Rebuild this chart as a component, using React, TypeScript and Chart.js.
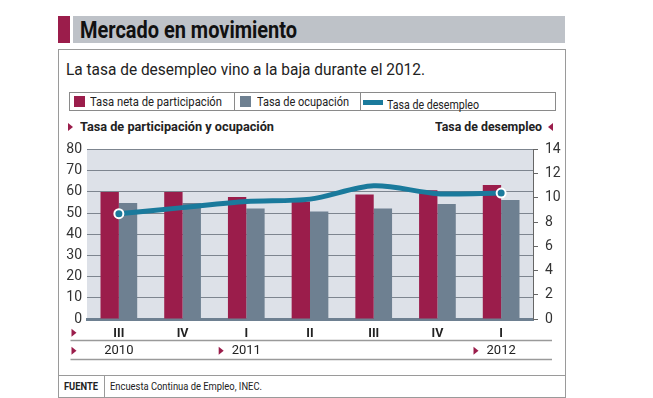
import React, { useEffect, useLayoutEffect, useRef } from "react";
import { Chart, registerables } from "chart.js";

Chart.register(...registerables);

const categories = ["III", "IV", "I", "II", "III", "IV", "I"];
const participacion = [60, 60, 57.6, 55.4, 58.8, 60.8, 63.2];
const ocupacion = [54.8, 54.8, 52.1, 50.7, 52.1, 54.3, 56.2];
const desempleo = [8.7, 9.2, 9.7, 9.9, 11.0, 10.35, 10.4];
const yearLabels = ["2010", "2011", "2012"];
const yearIndex = [0, 2, 6];
const yearArrow = [false, true, true];

const CRIMSON = "#9b1d4b";
const SLATE = "#6e8091";
const TEAL = "#1a7a9c";
const PLOTBG = "#dde1e8";
const F = "Roboto, 'Noto Sans', sans-serif";

const tri = (ctx: CanvasRenderingContext2D, x: number, y: number) => {
  ctx.beginPath();
  ctx.moveTo(x, y - 4);
  ctx.lineTo(x + 5, y);
  ctx.lineTo(x, y + 4);
  ctx.closePath();
  ctx.fillStyle = CRIMSON;
  ctx.fill();
};

const decor = {
  id: "decor",
  beforeDraw(chart: any) {
    const { ctx, chartArea: a } = chart;
    ctx.save();
    ctx.fillStyle = PLOTBG;
    ctx.fillRect(a.left, a.top, a.right - a.left, a.bottom - a.top);
    ctx.restore();
  },
  afterDraw(chart: any) {
    const { ctx } = chart;
    const xs = chart.scales.x;
    ctx.save();
    ctx.strokeStyle = "#9a9a9a";
    ctx.lineWidth = 1.5;
    [200.5, 219.5].forEach((y) => {
      ctx.beginPath();
      ctx.moveTo(12.5, y);
      ctx.lineTo(494, y);
      ctx.stroke();
    });
    tri(ctx, 13.5, 192.7);
    tri(ctx, 13.5, 210.7);
    ctx.font = `13px ${F}`;
    ctx.textBaseline = "middle";
    ctx.textAlign = "center";
    yearLabels.forEach((lab, i) => {
      const cx = xs.getPixelForValue(yearIndex[i]);
      ctx.fillStyle = "#222";
      ctx.fillText(lab, cx, 210.7);
      if (yearArrow[i]) {
        const w = ctx.measureText(lab).width;
        tri(ctx, cx - w / 2 - 13, 210.7);
      }
    });
    ctx.restore();
  },
};

function ChartBox() {
  const ref = useRef<HTMLCanvasElement>(null);
  useEffect(() => {
    if (!ref.current) return;
    const chart = new Chart(ref.current, {
      type: "bar",
      data: {
        labels: categories,
        datasets: [
          {
            type: "line",
            label: "Tasa de desempleo",
            data: desempleo,
            yAxisID: "y1",
            borderColor: TEAL,
            borderWidth: 5,
            tension: 0.3,
            pointRadius: [4.5, 0, 0, 0, 0, 0, 4.5],
            pointBackgroundColor: TEAL,
            pointBorderColor: "#ffffff",
            pointBorderWidth: 2,
            order: 0,
          } as any,
          {
            label: "Tasa neta de participación",
            data: participacion,
            backgroundColor: CRIMSON,
            yAxisID: "y",
            categoryPercentage: 0.576,
            barPercentage: 1,
            order: 1,
          },
          {
            label: "Tasa de ocupación",
            data: ocupacion,
            backgroundColor: SLATE,
            yAxisID: "y",
            categoryPercentage: 0.576,
            barPercentage: 1,
            order: 2,
          },
        ],
      },
      options: {
        animation: false,
        responsive: false,
        maintainAspectRatio: false,
        layout: { padding: { top: 9.5, left: 0, right: 0, bottom: 0 } },
        plugins: { legend: { display: false }, tooltip: { enabled: false } },
        scales: {
          x: {
            offset: true,
            grid: { display: false, drawTicks: false },
            border: { display: true, color: SLATE, width: 3 },
            ticks: {
              font: { family: F, size: 12.5, weight: "bold" },
              color: "#222",
              padding: 7,
              maxRotation: 0,
              autoSkip: false,
            },
            afterFit(s: any) {
              s.height = 46;
              s.paddingLeft = 0;
              s.paddingRight = 0;
            },
          },
          y: {
            position: "left",
            min: 0,
            max: 80,
            ticks: { stepSize: 10, padding: 5, font: { family: F, size: 14 }, color: "#333", autoSkip: false },
            grid: { color: "#7d858f", lineWidth: 1, drawTicks: false },
            border: { display: false },
            afterFit(s: any) {
              s.width = 29;
              s.paddingTop = 0;
              s.paddingBottom = 0;
            },
          },
          y1: {
            position: "right",
            min: 0,
            max: 14,
            ticks: { stepSize: 2, padding: 7, font: { family: F, size: 14 }, color: "#333", autoSkip: false },
            grid: { drawOnChartArea: false, drawTicks: true, tickLength: 5, color: "#666" },
            border: { display: true, color: "#666", width: 1 },
            afterFit(s: any) {
              s.width = 32;
              s.paddingTop = 0;
              s.paddingBottom = 0;
            },
          },
        },
      },
      plugins: [decor],
    });
    return () => chart.destroy();
  }, []);
  return (
    <canvas
      ref={ref}
      width={507}
      height={225}
      style={{ position: "absolute", left: 58, top: 140, width: 507, height: 225 }}
    />
  );
}

function T(props: {
  left: number;
  top: number;
  width: number;
  size: number;
  bold?: boolean;
  color?: string;
  children: React.ReactNode;
}) {
  const ref = useRef<HTMLSpanElement>(null);
  useLayoutEffect(() => {
    const el = ref.current;
    if (!el) return;
    el.style.transform = "none";
    const w = el.getBoundingClientRect().width;
    if (w > 0) el.style.transform = `scaleX(${props.width / w})`;
  }, []);
  return (
    <span
      ref={ref}
      style={{
        position: "absolute",
        left: props.left,
        top: props.top,
        fontFamily: F,
        fontSize: props.size,
        fontWeight: props.bold ? "bold" : "normal",
        whiteSpace: "nowrap",
        lineHeight: 1,
        transformOrigin: "left top",
        color: props.color || "#222",
      }}
    >
      {props.children}
    </span>
  );
}

const Tri = ({ left, top, dir }: { left: number; top: number; dir: number }) => (
  <div
    style={{
      position: "absolute",
      left,
      top,
      width: 0,
      height: 0,
      borderTop: "4px solid transparent",
      borderBottom: "4px solid transparent",
      ...(dir > 0 ? { borderLeft: `5px solid ${CRIMSON}` } : { borderRight: `5px solid ${CRIMSON}` }),
    }}
  />
);

export default function App() {
  return (
    <div style={{ position: "fixed", left: 0, top: 0, width: 653, height: 398, background: "#fff", overflow: "hidden" }}>
      <div style={{ position: "absolute", left: 58, top: 16, width: 12, height: 27, background: CRIMSON }} />
      <div style={{ position: "absolute", left: 73, top: 16, width: 492, height: 27, background: "#bec2c8" }} />
      <T left={80} top={17.6} width={217} size={24} bold color="#111">
        Mercado en movimiento
      </T>
      <div
        style={{
          position: "absolute",
          left: 58,
          top: 49,
          width: 508,
          height: 349,
          boxSizing: "border-box",
          border: "1px solid #9a9a9a",
        }}
      />
      <T left={66} top={61} width={359} size={17.4}>
        La tasa de desempleo vino a la baja durante el 2012.
      </T>
      <div
        style={{
          position: "absolute",
          left: 69,
          top: 92,
          width: 487,
          height: 19,
          boxSizing: "border-box",
          border: "1px solid #8a8a8a",
        }}
      />
      <div style={{ position: "absolute", left: 234, top: 92, width: 1, height: 19, background: "#8a8a8a" }} />
      <div style={{ position: "absolute", left: 360, top: 92, width: 1, height: 19, background: "#8a8a8a" }} />
      <div style={{ position: "absolute", left: 74, top: 96, width: 11, height: 11, background: CRIMSON }} />
      <T left={90} top={95} width={132} size={13}>
        Tasa neta de participación
      </T>
      <div style={{ position: "absolute", left: 240, top: 96, width: 11, height: 11, background: SLATE }} />
      <T left={257} top={95} width={92} size={13}>
        Tasa de ocupación
      </T>
      <div style={{ position: "absolute", left: 363, top: 100, width: 20, height: 5, background: TEAL }} />
      <T left={387} top={97.5} width={92} size={13}>
        Tasa de desempleo
      </T>
      <Tri left={68} top={123} dir={1} />
      <T left={80} top={120} width={194} size={13} bold>
        Tasa de participación y ocupación
      </T>
      <T left={435} top={120} width={107} size={13} bold>
        Tasa de desempleo
      </T>
      <Tri left={548} top={123} dir={-1} />
      <ChartBox />
      <div style={{ position: "absolute", left: 58, top: 375, width: 508, height: 1, background: "#9a9a9a" }} />
      <div style={{ position: "absolute", left: 104, top: 375, width: 1, height: 22, background: "#9a9a9a" }} />
      <T left={64} top={381} width={34} size={11} bold>
        FUENTE
      </T>
      <T left={110} top={381} width={152} size={11}>
        Encuesta Continua de Empleo, INEC.
      </T>
    </div>
  );
}
